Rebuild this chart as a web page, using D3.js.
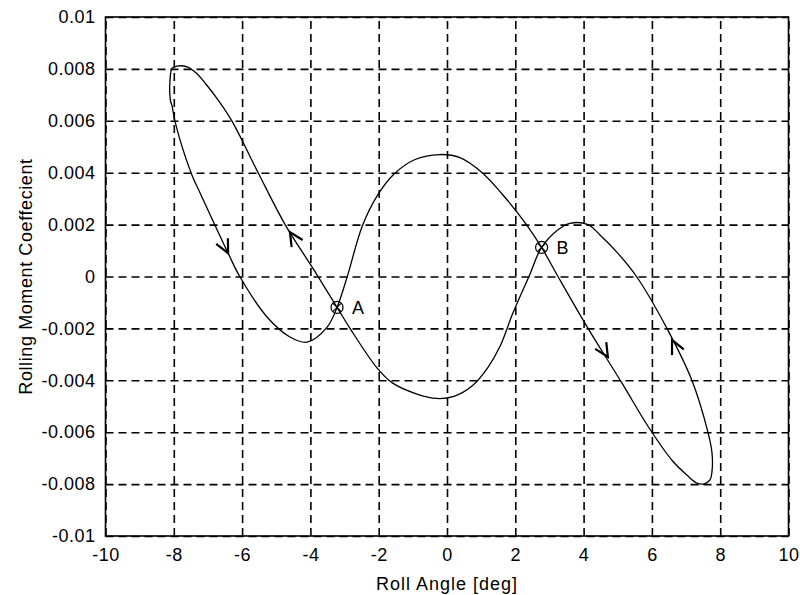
<!DOCTYPE html>
<html>
<head>
<meta charset="utf-8">
<script src="https://cdn.jsdelivr.net/npm/d3@7"></script>
<style>
  body { margin: 0; background: #fff; }
  text { font-family: "Liberation Sans", Arial, sans-serif; fill: #000; }
</style>
</head>
<body>
<div id="chart"></div>
<script>
// Data (closed loop, in drawing order)
var rollAngle = [-7.61, -7.91, -8.05, -8.10, -8.10, -8.05, -7.96, -7.47, -7.23, -6.41, -6.06, -5.27, -4.60, -4.10, -3.51,
  -3.22, -2.92, -2.48, -2.05, -1.55, -0.95, -0.21, 0.38, 1.03, 1.60, 2.30, 2.77,
  3.25, 4.13, 5.12, 5.90, 6.60, 7.05, 7.30, 7.50,
  7.70, 7.76, 7.76, 7.64, 7.17, 6.44, 5.55, 5.00, 4.48, 4.13, 3.60, 3.25, 2.77,
  2.40, 1.93, 1.55, 1.20, 0.75, 0.20, -0.30, -0.90, -1.60, -2.05, -2.84, -3.22,
  -3.92, -4.74, -5.53, -6.30, -6.70, -7.05, -7.35];
var rollMoment = [0.00808, 0.00811, 0.00803, 0.00773, 0.00680, 0.00657, 0.00595, 0.00391, 0.00322, 0.00090, -0.00002, -0.00156, -0.00233, -0.00253, -0.00195,
  -0.00119, 0.00000, 0.00195, 0.00310, 0.00395, 0.00450, 0.00470, 0.00458, 0.00400, 0.00320, 0.00205, 0.00112,
  0.00000, -0.00200, -0.00410, -0.00580, -0.00710, -0.00768, -0.00795, -0.00800,
  -0.00784, -0.00750, -0.00680, -0.00600, -0.00400, -0.00200, 0.00000, 0.00090, 0.00160, 0.00200, 0.00205, 0.00180, 0.00112,
  0.00000, -0.00141, -0.00270, -0.00350, -0.00420, -0.00462, -0.00470, -0.00452, -0.00410, -0.00352, -0.00200, -0.00119,
  0.00030, 0.00200, 0.00400, 0.00600, 0.00680, 0.00740, 0.00785];

// Direction arrows (tip positions)
var arrowX = [-6.41, -4.60, 4.71, 6.59];
var arrowY = [0.00090, 0.00171, -0.00310, -0.00245];

// Crossing points
var pointLabels = ["A", "B"];
var pointX = [-3.22, 2.77];
var pointY = [-0.00119, 0.00112];

var xTicks = [-10, -8, -6, -4, -2, 0, 2, 4, 6, 8, 10];
var yTicks = [-0.01, -0.008, -0.006, -0.004, -0.002, 0, 0.002, 0.004, 0.006, 0.008, 0.01];

var margin = { top: 17, right: 11.5, bottom: 59, left: 105.5 },
  width = 800 - margin.left - margin.right,
  height = 595 - margin.top - margin.bottom;

var svg = d3.select("#chart")
  .append("svg")
  .attr("width", 800)
  .attr("height", 595)
  .append("g")
  .attr("transform", "translate(" + margin.left + "," + margin.top + ")");

var x = d3.scaleLinear().domain([-10, 10]).range([0, width]);
var y = d3.scaleLinear().domain([-0.01, 0.01]).range([height, 0]);

// X axis + vertical grid
var gx = svg.append("g")
  .attr("transform", "translate(0," + height + ")")
  .call(d3.axisBottom(x).tickValues(xTicks).tickSize(-height).tickPadding(12)
    .tickFormat(function (d) { return String(d); }));
gx.select(".domain").remove();
gx.selectAll("text").style("font-size", "18px").style("letter-spacing", "0.5px");

// Y axis + horizontal grid
var gy = svg.append("g")
  .call(d3.axisLeft(y).tickValues(yTicks).tickSize(-width).tickPadding(10)
    .tickFormat(function (d) { return String(+d.toFixed(3)); }));
gy.select(".domain").remove();
gy.selectAll("text").style("font-size", "18px").style("letter-spacing", "0.5px");

svg.selectAll(".tick line")
  .attr("stroke", "#000")
  .attr("stroke-width", 1.6)
  .attr("stroke-dasharray", "8,5");

// frame
svg.append("rect")
  .attr("width", width)
  .attr("height", height)
  .attr("fill", "none")
  .attr("stroke", "#000")
  .attr("stroke-width", 1.6);

// the loop
var pts = rollAngle.map(function (d, i) { return [x(d), y(rollMoment[i])]; });
svg.append("path")
  .datum(pts)
  .attr("d", d3.line().curve(d3.curveCatmullRomClosed.alpha(0.5)))
  .attr("fill", "none")
  .attr("stroke", "#000")
  .attr("stroke-width", 1.3);

// arrows: direction from nearest segment of the loop
function tangentAt(px, py) {
  var best = 0, bestD = Infinity;
  for (var i = 0; i < pts.length; i++) {
    var a = pts[i], b = pts[(i + 1) % pts.length];
    var mx = (a[0] + b[0]) / 2, my = (a[1] + b[1]) / 2;
    var dd = (mx - px) * (mx - px) + (my - py) * (my - py);
    if (dd < bestD) { bestD = dd; best = i; }
  }
  var a = pts[best], b = pts[(best + 1) % pts.length];
  return Math.atan2(b[1] - a[1], b[0] - a[0]);
}

arrowX.forEach(function (ax, i) {
  var tx = x(ax), ty = y(arrowY[i]);
  var ang = tangentAt(tx, ty) + Math.PI;
  var len = 15, spread = 0.45;
  var w1 = [tx + len * Math.cos(ang - spread), ty + len * Math.sin(ang - spread)];
  var w2 = [tx + len * Math.cos(ang + spread), ty + len * Math.sin(ang + spread)];
  svg.append("path")
    .attr("d", "M" + w1 + "L" + tx + "," + ty + "L" + w2)
    .attr("fill", "none")
    .attr("stroke", "#000")
    .attr("stroke-width", 2.2);
});

// A / B markers
pointLabels.forEach(function (lab, i) {
  var cx = x(pointX[i]), cy = y(pointY[i]);
  var g = svg.append("g").attr("transform", "translate(" + cx + "," + cy + ")");
  g.append("circle").attr("r", 6).attr("fill", "none").attr("stroke", "#000").attr("stroke-width", 1.2);
  g.append("path").attr("d", "M-4,-4L4,4M-4,4L4,-4").attr("stroke", "#000").attr("stroke-width", 1.1);
  svg.append("text")
    .attr("x", cx + 15)
    .attr("y", cy)
    .attr("dy", "0.36em")
    .style("font-size", "18px")
    .text(lab);
});

// axis titles
svg.append("text")
  .attr("x", width / 2 + 0)
  .attr("y", height + 54)
  .attr("text-anchor", "middle")
  .style("font-size", "18px")
  .style("letter-spacing", "1px")
  .text("Roll Angle [deg]");

svg.append("text")
  .attr("transform", "translate(" + (-74) + "," + (height / 2) + ") rotate(-90)")
  .attr("text-anchor", "middle")
  .style("font-size", "18px")
  .style("letter-spacing", "0.6px")
  .text("Rolling Moment Coeffecient");
</script>
</body>
</html>
